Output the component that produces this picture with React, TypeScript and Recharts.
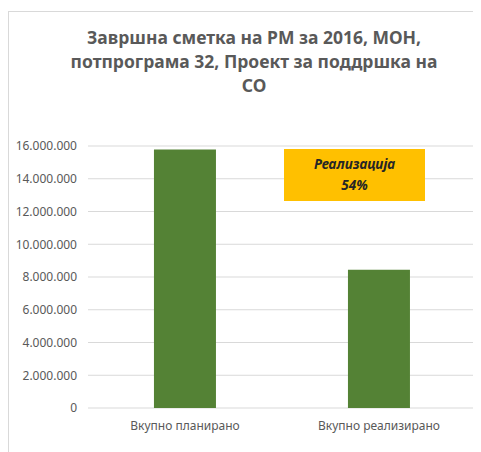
import React from "react";
import { BarChart, Bar, XAxis, YAxis, CartesianGrid } from "recharts";

const categories = ["Вкупно планирано", "Вкупно реализирано"];
const amounts = [15780000, 8450000];
const yTicks = [0, 2000000, 4000000, 6000000, 8000000, 10000000, 12000000, 14000000, 16000000];
const titleLines = ["Завршна сметка на РМ за 2016, МОН,", "потпрограма 32, Проект за поддршка на", "СО"];
const noteLines = ["Реализација", "54%"];

const data = categories.map((name, i) => ({ name, value: amounts[i] }));

const fmt = (v: number) => v.toLocaleString("de-DE");

export default function App() {
  return (
    <div
      style={{
        position: "relative",
        width: 473,
        height: 441,
        marginTop: 3,
        borderTop: "1px solid #d9d9d9",
        borderLeft: "1px solid #d9d9d9",
        fontFamily: "'Noto Sans', sans-serif",
      }}
    >
      {/* title */}
      <div
        style={{
          position: "absolute",
          left: 0,
          top: 13,
          width: 490,
          textAlign: "center",
          fontWeight: "bold",
          fontSize: 17.5,
          lineHeight: "24px",
          color: "#595959",
        }}
      >
        {titleLines.map((t) => (
          <div key={t}>{t}</div>
        ))}
      </div>

      <BarChart
        width={473}
        height={441}
        data={data}
        margin={{ top: 134, right: 6, bottom: 15, left: 0 }}
        barCategoryGap="34%"
      >
        <CartesianGrid vertical={false} stroke="#d9d9d9" />
        <XAxis
          dataKey="name"
          axisLine={false}
          tickLine={false}
          tickSize={0}
          tickMargin={13}
          height={30}
          tick={{ fontSize: 12, fill: "#595959" }}
        />
        <YAxis
          domain={[0, 16000000]}
          ticks={yTicks}
          tickFormatter={fmt}
          axisLine={false}
          tickLine={false}
          tickSize={0}
          tickMargin={11}
          width={79}
          tick={{ fontSize: 12, fill: "#595959" }}
        />
        <Bar dataKey="value" fill="#548235" isAnimationActive={false} />
      </BarChart>

      {/* note box */}
      <div
        style={{
          position: "absolute",
          left: 275,
          top: 137,
          width: 141,
          height: 52,
          background: "#ffc000",
          display: "flex",
          flexDirection: "column",
          justifyContent: "center",
          alignItems: "center",
          fontWeight: "bold",
          fontStyle: "italic",
          fontSize: 13.5,
          lineHeight: "21px",
          color: "#262626",
        }}
      >
        {noteLines.map((t) => (
          <div key={t}>{t}</div>
        ))}
      </div>
    </div>
  );
}
